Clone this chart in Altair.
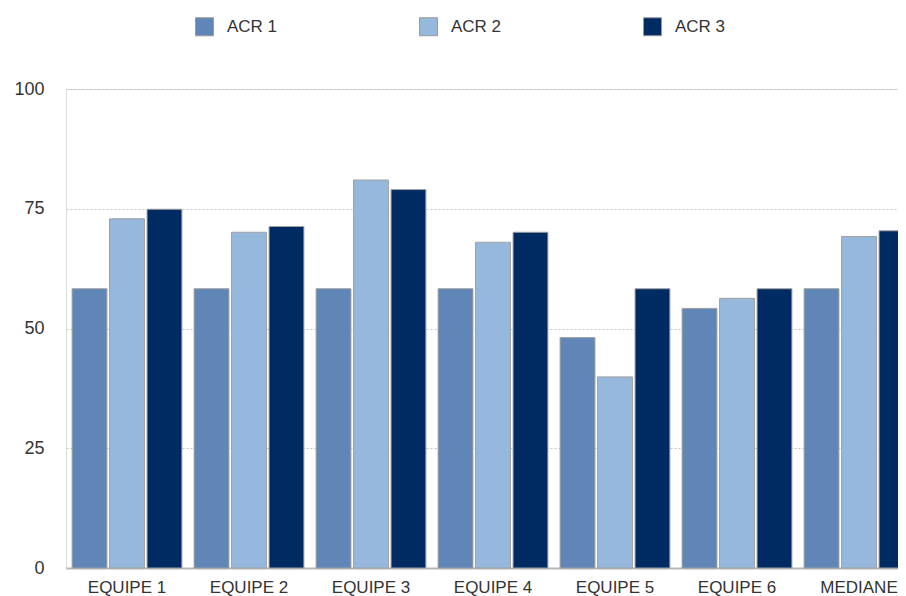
import altair as alt
import pandas as pd

categories = ["EQUIPE 1", "EQUIPE 2", "EQUIPE 3", "EQUIPE 4", "EQUIPE 5", "EQUIPE 6", "MEDIANE"]
series = ["ACR 1", "ACR 2", "ACR 3"]
acr1 = [58.3, 58.3, 58.3, 58.3, 48.1, 54.2, 58.3]
acr2 = [72.9, 70.1, 81.0, 68.0, 39.9, 56.3, 69.2]
acr3 = [74.9, 71.3, 79.0, 70.1, 58.3, 58.3, 70.4]
colors = ["#5f86b7", "#95b8dc", "#002b62"]
y_ticks = [0, 25, 50, 75, 100]

rows = []
for name, vals in zip(series, [acr1, acr2, acr3]):
    for c, v in zip(categories, vals):
        rows.append({"equipe": c, "serie": name, "valeur": v})
df = pd.DataFrame(rows)

FONT = "Liberation Sans"

chart = alt.Chart(df).mark_bar(stroke="#a0a0a0", strokeWidth=1).encode(
    x=alt.X("equipe:N", sort=categories,
            scale=alt.Scale(range=[0, 854], paddingInner=0.1, paddingOuter=0.05),
            axis=alt.Axis(title=None, labelAngle=0, ticks=False, labelPadding=11,
                          labelFontSize=17, labelFont=FONT, labelColor="#333333",
                          domainColor="#b5b5b5", domainWidth=2)),
    xOffset=alt.XOffset("serie:N", sort=series, scale=alt.Scale(paddingInner=0.07)),
    y=alt.Y("valeur:Q", scale=alt.Scale(domain=[0, 100], nice=False),
            axis=alt.Axis(title=None, values=y_ticks, ticks=False, domain=False,
                          labelPadding=22, labelFontSize=18, labelFont=FONT,
                          labelColor="#333333", gridColor="#c4c4c4", gridDash=[2, 2],
                          gridWidth=1)),
    color=alt.Color("serie:N", sort=series,
                    scale=alt.Scale(domain=series, range=colors),
                    legend=alt.Legend(title=None, orient="none", legendX=129, legendY=-72,
                                      direction="horizontal", columns=3,
                                      symbolType="square", symbolSize=324,
                                      symbolStrokeColor="#9a9a9a", symbolStrokeWidth=1,
                                      labelFontSize=17, labelFont=FONT, labelColor="#333333",
                                      labelOffset=13, columnPadding=139, padding=0)),
).properties(
    width=832, height=479,
    autosize=alt.AutoSizeParams(type="none"),
    padding={"left": 58, "top": 81, "right": 0, "bottom": 30},
).configure_view(stroke="transparent").configure(background="white")

chart.save("out.html", embed_options={"renderer": "svg", "actions": False})
